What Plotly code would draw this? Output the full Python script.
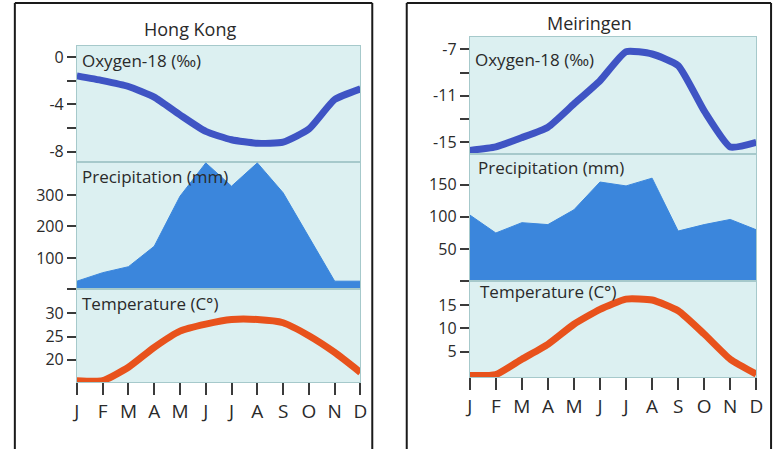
import plotly.graph_objects as go

months = ["J", "F", "M", "A", "M", "J", "J", "A", "S", "O", "N", "D"]

hk_oxygen = [-1.6, -2.0, -2.5, -3.4, -4.9, -6.3, -7.0, -7.3, -7.2, -6.1, -3.6, -2.7]
hk_precip = [26, 53, 72, 137, 296, 402, 328, 402, 307, 165, 26, 26]
hk_temp = [15.5, 15.5, 18.4, 22.7, 26.2, 27.7, 28.7, 28.7, 28.0, 25.2, 21.6, 17.3]

mei_oxygen = [-15.7, -15.4, -14.6, -13.7, -11.7, -9.7, -7.2, -7.4, -8.4, -12.3, -15.4, -15.0]
mei_precip = [103, 75, 91, 88, 111, 154, 148, 160, 78, 88, 96, 80]
mei_temp = [-0.1, 0.1, 3.4, 6.6, 10.9, 14.1, 16.3, 16.1, 13.8, 8.8, 3.4, 0.2]

W, H = 782, 450
FONT = "Open Sans, Roboto, sans-serif"
BG = "#dcf0f1"
EDGE = "#a6c9cb"
TICKC = "#3a3a3a"
TXT = "#2a2a2a"
OXY_C = "#3f54c4"
PRE_C = "#3b86dc"
TMP_C = "#e8521c"

x_idx = list(range(12))

def px_x(a, b):
    return [a / W, b / W]

def px_y(top, bottom):
    return [1 - bottom / H, 1 - top / H]

fig = go.Figure()

panels = [
    dict(
        xpx=(73, 361),
        rows=[(46, 162), (162, 290), (290, 383)],
        data=[hk_oxygen, hk_precip, hk_temp],
        ranges=[[-8.85, 0.93], [0, 406], [15.2, 35.2]],
        tickvals=[[0, -2, -4, -6, -8], [0, 100, 200, 300], [20, 25, 30]],
        ticktext=[["0", "", "-4", "", "-8"], ["", "100", "200", "300"], ["20", "25", "30"]],
    ),
    dict(
        xpx=(472, 763),
        rows=[(37, 154), (154, 282), (282, 378)],
        data=[mei_oxygen, mei_precip, mei_temp],
        ranges=[[-15.98, -5.93], [0, 198], [-0.45, 20.1]],
        tickvals=[[-7, -9, -11, -13, -15], [0, 50, 100, 150], [5, 10, 15]],
        ticktext=[["-7", "", "-11", "", "-15"], ["", "50", "100", "150"], ["5", "10", "15"]],
    ),
]

layout_axes = {}
n = 0
for p in panels:
    for r in range(3):
        n += 1
        xa = "x" if n == 1 else f"x{n}"
        ya = "y" if n == 1 else f"y{n}"
        xkey = "xaxis" if n == 1 else f"xaxis{n}"
        ykey = "yaxis" if n == 1 else f"yaxis{n}"
        vals = p["data"][r]
        if r == 0:
            fig.add_trace(go.Scatter(x=x_idx, y=vals, mode="lines", xaxis=xa, yaxis=ya,
                                     line=dict(color=OXY_C, width=7, shape="spline", smoothing=0.5),
                                     showlegend=False, hoverinfo="skip"))
        elif r == 1:
            fig.add_trace(go.Scatter(x=x_idx, y=vals, mode="lines", xaxis=xa, yaxis=ya,
                                     fill="tozeroy", fillcolor=PRE_C,
                                     line=dict(color=PRE_C, width=1),
                                     showlegend=False, hoverinfo="skip"))
        else:
            fig.add_trace(go.Scatter(x=x_idx, y=vals, mode="lines", xaxis=xa, yaxis=ya,
                                     line=dict(color=TMP_C, width=7, shape="spline", smoothing=0.5),
                                     showlegend=False, hoverinfo="skip"))
        is_bottom = r == 2
        layout_axes[xkey] = dict(
            domain=px_x(*p["xpx"]), anchor=ya, range=[0, 11],
            showgrid=False, zeroline=False, fixedrange=True,
            showline=True, mirror=True, linecolor=EDGE, linewidth=1,
            tickmode="array", tickvals=x_idx, ticktext=months,
            ticks="outside" if is_bottom else "", ticklen=12, tickwidth=2, tickcolor=TICKC,
            showticklabels=is_bottom,
            tickfont=dict(family=FONT, size=19, color=TXT),
        )
        layout_axes[ykey] = dict(
            domain=px_y(*p["rows"][r]), anchor=xa, range=p["ranges"][r],
            showgrid=False, zeroline=False, fixedrange=True,
            showline=True, mirror=True, linecolor=EDGE, linewidth=1,
            tickmode="array", tickvals=p["tickvals"][r], ticktext=p["ticktext"][r],
            ticks="outside", ticklen=9, tickwidth=2, tickcolor=TICKC,
            tickfont=dict(family=FONT, size=16, color=TXT),
        )

fig.update_layout(**layout_axes)

shapes = []
for (x0, x1) in [(10, 373), (408, 778)]:
    for (xa0, ya0, xa1, ya1) in [(x0, 3, x1, 3), (x0, 3, x0, 450), (x1, 3, x1, 450)]:
        shapes.append(dict(type="line", xref="paper", yref="paper",
                           x0=xa0 / W, y0=1 - ya0 / H, x1=xa1 / W, y1=1 - ya1 / H,
                           line=dict(color="#1a1a1a", width=2)))

annotations = []
titles = [("Hong Kong", 188, 29), ("Meiringen", 594, 23)]
for t, cx, cy in titles:
    annotations.append(dict(text=t, x=cx / W, y=1 - cy / H, xref="paper", yref="paper",
                            xanchor="center", yanchor="middle", showarrow=False,
                            font=dict(family=FONT, size=18, color=TXT)))

labels = [
    ("Oxygen-18 (‰)", 76, 61), ("Precipitation (mm)", 76, 177), ("Temperature (C°)", 76, 304),
    ("Oxygen-18 (‰)", 475, 60), ("Precipitation (mm)", 478, 168), ("Temperature (C°)", 480, 292),
]
for t, lx, ly in labels:
    annotations.append(dict(text=t, x=lx / W, y=1 - ly / H, xref="paper", yref="paper",
                            xanchor="left", yanchor="middle", showarrow=False,
                            font=dict(family=FONT, size=17, color=TXT)))

fig.update_layout(
    width=W, height=H, margin=dict(l=0, r=0, t=0, b=0),
    paper_bgcolor="white", plot_bgcolor=BG,
    shapes=shapes, annotations=annotations, showlegend=False,
)

fig.write_html("out.html", config={"displayModeBar": False},
               post_script="document.body.style.margin='0';document.body.style.overflow='hidden';")
